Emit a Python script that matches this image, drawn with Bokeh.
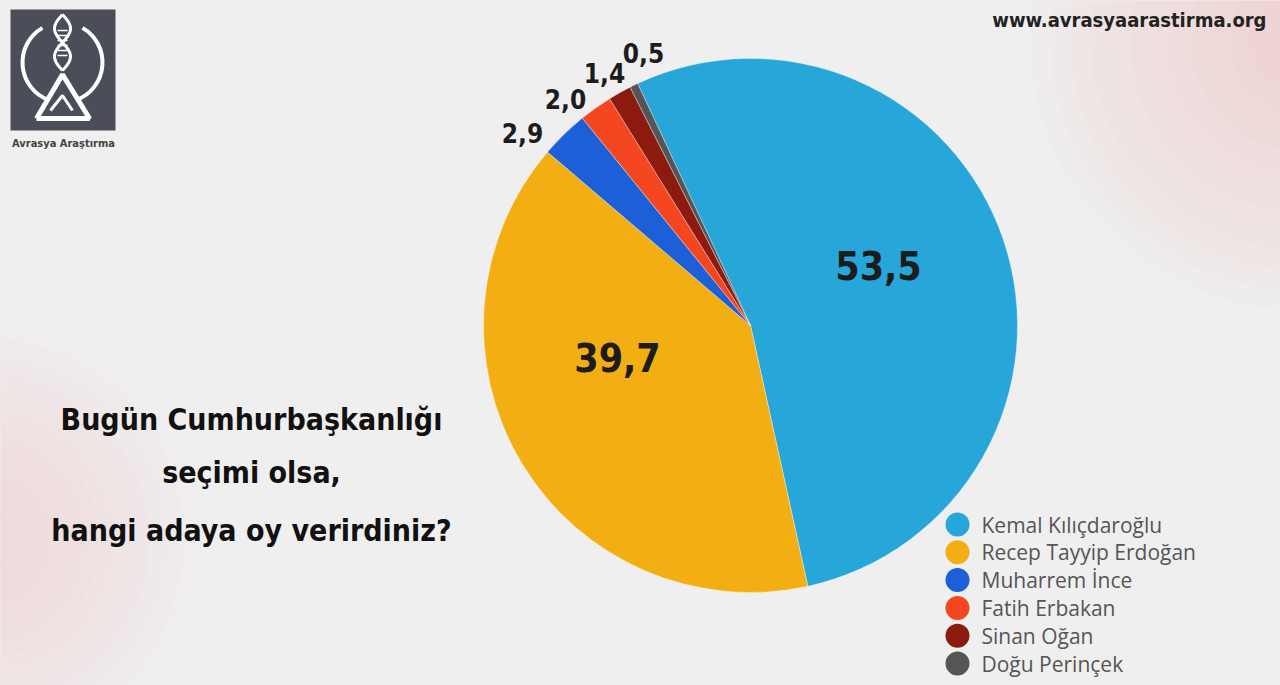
import numpy as np
from bokeh.plotting import figure
from bokeh.models import Range1d, ColumnDataSource
from bokeh.core.properties import value
from bokeh.embed import file_html
from bokeh.resources import INLINE

# ---- data ----
candidates = ["Kemal Kılıçdaroğlu", "Recep Tayyip Erdoğan", "Muharrem İnce",
              "Fatih Erbakan", "Sinan Oğan", "Doğu Perinçek"]
shares = [53.5, 39.7, 2.9, 2.0, 1.4, 0.5]
share_labels = ["53,5", "39,7", "2,9", "2,0", "1,4", "0,5"]
colors = ["#27a6da", "#f3ae13", "#1c5fd6", "#f4471f", "#8c1a0e", "#555555"]
title_lines = ["Bugün Cumhurbaşkanlığı", "seçimi olsa,", "hangi adaya oy verirdiniz?"]
website = "www.avrasyaarastirma.org"
brand = "Avrasya Araştırma"

# ---- layout (reference pixel coords; y_data = 685 - y_px) ----
def Y(v):
    return 685 - np.asarray(v, dtype=float)

CX, CY, R = 750, Y(325), 267
START_DEG = 115.0  # math angle where first slice starts, slices go clockwise
label_px = [(878, 265), (617, 357), (522, 132), (565, 98), (604, 72), (643, 52)]
label_size = ["39px", "39px", "26px", "26px", "26px", "26px"]

NARROW = value("DejaVu Sans Condensed")

p = figure(width=1280, height=685, output_backend="svg", toolbar_location=None,
           x_range=Range1d(0, 1280), y_range=Range1d(0, 685), min_border=0)
p.axis.visible = False
p.xgrid.visible = False
p.ygrid.visible = False
p.outline_line_color = None
p.background_fill_color = "#efefef"
p.border_fill_color = "#efefef"

# soft pink corner glows
for i in range(12):
    p.circle(x=1300, y=Y(40), radius=270 - i * 20, fill_color="#f7b0b0",
             fill_alpha=0.045, line_color=None)
    p.circle(x=-20, y=Y(540), radius=220 - i * 17, fill_color="#f7c4c4",
             fill_alpha=0.03, line_color=None)

# ---- pie ----
vals = np.array(shares, dtype=float)
frac = vals / vals.sum()
cum_end = np.cumsum(frac)
cum_start = cum_end - frac
start0 = np.deg2rad(START_DEG)
src = ColumnDataSource(dict(
    start=start0 - cum_end * 2 * np.pi,
    end=start0 - cum_start * 2 * np.pi,
    color=colors, name=candidates))
p.wedge(x=CX, y=CY, radius=R, start_angle="start", end_angle="end",
        fill_color="color", line_color="#ffffff", line_alpha=0.35, line_width=1,
        source=src)

# value labels
lsrc = ColumnDataSource(dict(x=[q[0] for q in label_px], y=Y([q[1] for q in label_px]),
                             t=share_labels, s=label_size))
p.text(x="x", y="y", text="t", text_font_size="s", text_font=NARROW,
       text_font_style="bold", text_color="#1c1c1c", text_align="center",
       text_baseline="middle", source=lsrc)

# ---- title ----
p.text(x=[251, 251, 251], y=Y([419, 472, 530]), text=title_lines,
       text_font=NARROW, text_font_style="bold", text_font_size="30px",
       text_color="#111111", text_align="center", text_baseline="middle")

# ---- website ----
p.text(x=[1266], y=Y([19]), text=[website], text_font=NARROW, text_font_style="bold",
       text_font_size="20px", text_color="#222222", text_align="right",
       text_baseline="middle")

# ---- legend ----
leg_y = Y(524 + 27.8 * np.arange(len(candidates)))
p.scatter(x=[957] * len(candidates), y=leg_y, size=24, marker="circle",
          fill_color=colors, line_color=None)
p.text(x=[981] * len(candidates), y=leg_y, text=candidates,
       text_font=value("Open Sans"), text_font_size="21px", text_color="#555555",
       text_baseline="middle")

# ---- logo ----
p.quad(left=10, right=115, top=Y(9), bottom=Y(130), fill_color="#4b4e59", line_color=None)
p.arc(x=62, y=Y(62), radius=40, start_angle=np.deg2rad(120), end_angle=np.deg2rad(250),
      line_color="white", line_width=4)
p.arc(x=62, y=Y(62), radius=40, start_angle=np.deg2rad(-70), end_angle=np.deg2rad(60),
      line_color="white", line_width=4)
t = np.linspace(0, 1, 40)
hx1 = 62 + 8 * np.sin(t * 2 * np.pi)
hx2 = 62 - 8 * np.sin(t * 2 * np.pi)
hy = Y(14 + 56 * t)
p.line(x=hx1, y=hy, line_color="white", line_width=3)
p.line(x=hx2, y=hy, line_color="white", line_width=3)
for k in range(6):
    yy = 30 + k * 5
    p.segment(x0=57, x1=67, y0=Y(yy), y1=Y(yy), line_color="white", line_width=1.5)
p.line(x=[36, 62, 89, 36], y=Y([118, 74, 118, 118]), line_color="white", line_width=5)
p.line(x=[50, 62, 72], y=Y([110, 95, 110]), line_color="white", line_width=3)
p.text(x=[63], y=Y([143]), text=[brand], text_font=NARROW, text_font_style="bold",
       text_font_size="11px", text_color="#444444", text_align="center",
       text_baseline="middle")

html = file_html(p, INLINE)
html = html.replace("<body>", '<body style="background:#efefef">', 1)
html = html.replace("<html", '<html style="background:#efefef"', 1)
open("out.html", "w").write(html)
